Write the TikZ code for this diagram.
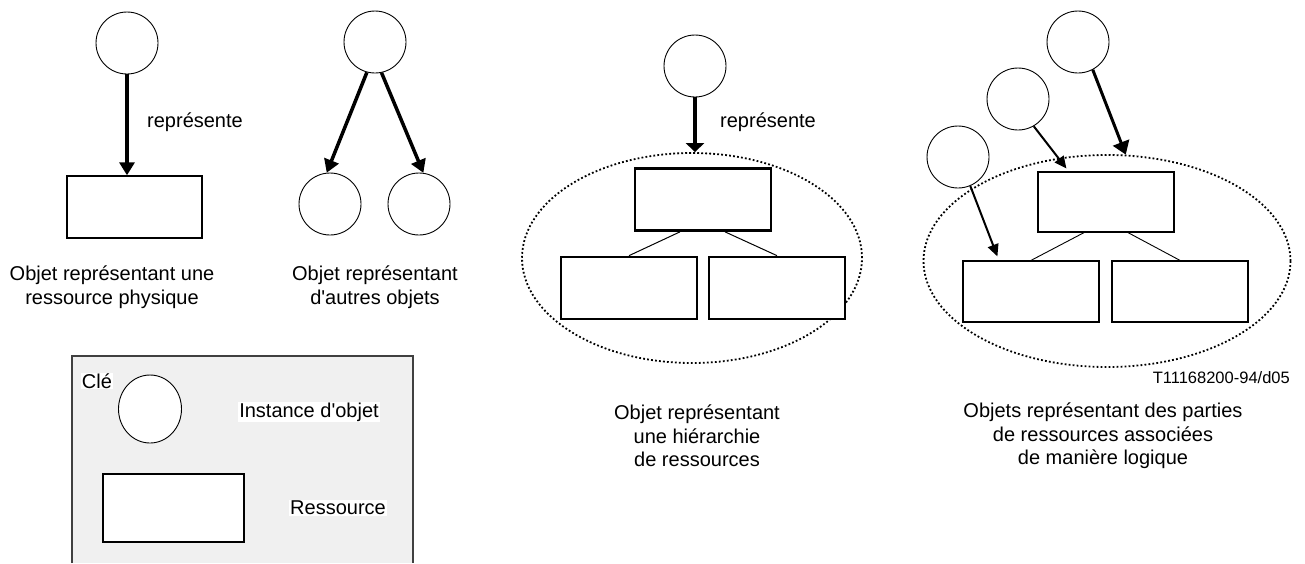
\documentclass[tikz,border=0pt]{standalone}
\usepackage{fontspec}
\setmainfont{Liberation Sans}[Ligatures=TeXOff]
\usetikzlibrary{arrows.meta,shapes.geometric}
\definecolor{keybg}{HTML}{F0F0F0}
\definecolor{keyline}{HTML}{404040}

\begin{document}
\begin{tikzpicture}[x=1pt,y=-1pt,
obj/.style={%
circle,
draw,
fill=white,
line width=0.9pt,
minimum size=62pt,
inner sep=0pt
},
res/.style={%
draw,
fill=white,
line width=1.4pt,
minimum width=135pt,
minimum height=62pt,
inner sep=0pt
},
rep/.style={%
line width=3.5pt,
-{Triangle[width=15pt,length=13pt]}
},
grp/.style={%
ellipse,
draw,
line width=1.8pt,
dash pattern=on 1.8pt off 2.2pt,
inner sep=0pt
},
txt/.style={%
font=\fontsize{20}{23.5}\selectfont,
align=center,
inner sep=1pt
},
]
\useasboundingbox (0,0) rectangle (1305,563);
%% Physical resource
\node[obj]at(127,43)(c1){};
\node[res]at(134.5,207)(r1){};
\draw[rep](c1.south)--(c1.south|-r1.north);
\node[txt]at(195,122)(l1){représente};
\node[txt]at(112,287)(t1){Objet représentant une\\ressource physique};
%% Other objects
\node[obj]at(375,42)(c2){};
\node[obj]at(330,204)(c2a){};
\node[obj]at(419,204)(c2b){};
\draw[rep](c2.255)--(c2a.96);
\draw[rep](c2.282)--(c2b.82);
\node[txt]at(375,287)(t2){Objet représentant\\d'autres objets};
%% Hierarchy
\node[grp,minimum width=340pt,minimum height=210pt]at(692,258)(g3){};
\node[obj]at(695,66)(c3){};
\draw[rep,-{Triangle[width=18pt,length=9pt]}](c3.south)--(c3.south|-g3.north);
\node[txt]at(768,122)(l3){représente};
\node[res,line width=2.7pt,minimum width=136pt]at(703,199.5)(r3t){};
\node[res,line width=2.7pt,minimum width=136pt]at(629,288)(r3a){};
\node[res,line width=2.7pt,minimum width=136pt]at(777,288)(r3b){};
\draw[line width=1pt]([xshift=-23pt]r3t.south)--(r3a.north);
\draw[line width=1pt]([xshift=22pt]r3t.south)--(r3b.north);
\node[txt]at(697,436)(t3){Objet représentant\\une hiérarchie\\de ressources};
%% Logical parts
\node[grp,minimum width=367pt,minimum height=212pt]at(1107,261)(g4){};
\node[obj]at(958,157)(c4a){};
\node[obj]at(1018,99)(c4b){};
\node[obj]at(1078,42)(c4c){};
\node[res,line width=1.2pt,minimum width=136pt,minimum height=60pt]at(1106,202)(r4t){};
\node[res,line width=1.2pt,minimum width=136pt,minimum height=61pt]at(1031,291.5)(r4a){};
\node[res,line width=1.2pt,minimum width=136pt,minimum height=61pt]at(1180,291.5)(r4b){};
\draw[line width=0.9pt]([xshift=-22pt]r4t.south)--(r4a.north);
\draw[line width=0.9pt]([xshift=22pt]r4t.south)--(r4b.north);
\draw[rep,line width=3pt,-{Triangle[width=17pt,length=13pt]}](c4c.298)--(g4.80);
\draw[rep,line width=2pt,-{Triangle[width=11pt,length=12pt]}](c4b.300)--([xshift=29pt,yshift=3pt]r4t.north west);
\draw[rep,line width=2pt,-{Triangle[width=11pt,length=12pt]}](c4a.293)--([xshift=35pt,yshift=4pt]r4a.north west);
\node[txt,font=\fontsize{16.5}{20}\selectfont,anchor=east]at(1291,378)(ref){T11168200-94/d05};
\node[txt]at(1103,436)(t4){Objets représentant des parties\\de ressources associées\\de manière logique};
%% Key
\fill[keybg](72,356)rectangle(413,563);
\draw[keyline,line width=1.5pt](72,563)--(72,356)--(413,356)--(413,563);
\node[txt,fill=white]at(97,381)(kt){Clé};
\node[obj,ellipse,minimum width=63pt,minimum height=68pt]at(150,409)(kc){};
\node[txt,fill=white]at(309,412)(kl1){Instance d'objet};
\node[res,line width=1.2pt,minimum width=141pt,minimum height=68pt]at(173.5,508)(kr){};
\node[txt,fill=white]at(338,508)(kl2){Ressource};
\end{tikzpicture}
\end{document}
